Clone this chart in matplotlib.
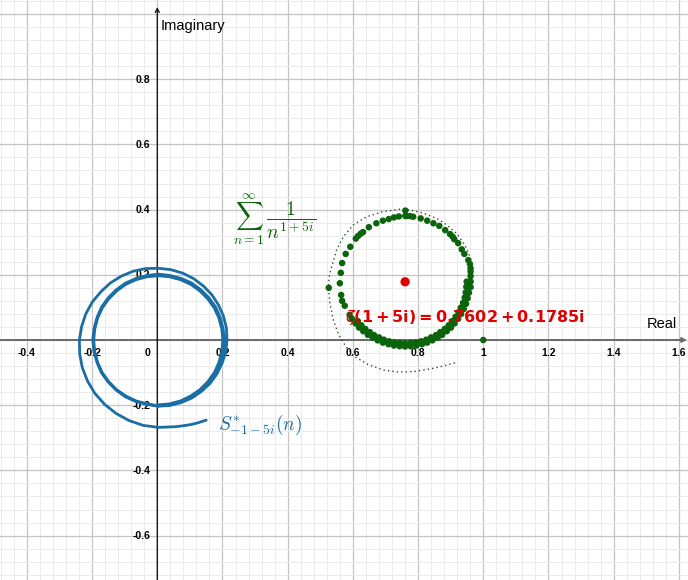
import matplotlib
matplotlib.use('Agg')
import matplotlib.pyplot as plt
from matplotlib.ticker import MultipleLocator

plt.rcParams['font.family'] = ['Liberation Sans', 'DejaVu Sans']
plt.rcParams['mathtext.fontset'] = 'cm'

# axis tick labels
x_ticks = [-0.4, -0.2, 0.2, 0.4, 0.6, 0.8, 1.0, 1.2, 1.4, 1.6]
x_tick_labels = ['-0.4', '-0.2', '0.2', '0.4', '0.6', '0.8', '1', '1.2', '1.4', '1.6']
y_ticks = [-0.6, -0.4, -0.2, 0.2, 0.4, 0.6, 0.8]
y_tick_labels = ['-0.6', '-0.4', '-0.2', '0.2', '0.4', '0.6', '0.8']

# zeta(1+5i)
zeta_re = 0.7602
zeta_im = 0.1785

# partial sums of sum 1/n^(1+5i) (green dots)
# sparse dots around the top and left
sum_re = [1.000, 0.526, 0.761, 0.761, 0.741, 0.726, 0.710, 0.692, 0.672, 0.649,
          0.631, 0.624, 0.616, 0.609, 0.592, 0.578, 0.567, 0.563, 0.560,
          0.763, 0.775, 0.785, 0.808, 0.828, 0.847, 0.865, 0.883, 0.898, 0.906,
          0.911, 0.923, 0.934, 0.942, 0.954, 0.959, 0.961, 0.961, 0.961, 0.961,
          0.961, 0.564, 0.567, 0.575, 0.590]
sum_im = [0.000, 0.160, 0.397, 0.381, 0.379, 0.376, 0.371, 0.366, 0.358, 0.346,
          0.331, 0.326, 0.319, 0.311, 0.286, 0.264, 0.236, 0.206, 0.174,
          0.380, 0.380, 0.378, 0.373, 0.366, 0.358, 0.350, 0.337, 0.325, 0.317,
          0.309, 0.297, 0.278, 0.264, 0.245, 0.233, 0.220, 0.210, 0.196, 0.179,
          0.162, 0.138, 0.120, 0.105, 0.077]
# dense band of dots, lower right of the circle (outer and inner rows)
band_re = [0.959, 0.958, 0.956, 0.952, 0.947, 0.940, 0.932, 0.923, 0.912, 0.901,
           0.888, 0.874, 0.860, 0.844, 0.828, 0.812, 0.795, 0.777, 0.760, 0.743,
           0.726, 0.709, 0.692, 0.676, 0.661, 0.646, 0.632, 0.619, 0.608, 0.597,
           0.949, 0.948, 0.946, 0.943, 0.938, 0.931, 0.924, 0.915, 0.905, 0.894,
           0.882, 0.868, 0.855, 0.840, 0.825, 0.809, 0.793, 0.777, 0.760, 0.744,
           0.727, 0.711, 0.695, 0.680, 0.665, 0.652, 0.638, 0.626, 0.615]
band_im = [0.179, 0.162, 0.145, 0.128, 0.111, 0.095, 0.080, 0.065, 0.051, 0.038,
           0.027, 0.016, 0.007, -0.001, -0.008, -0.013, -0.017, -0.019, -0.020, -0.019,
           -0.017, -0.013, -0.008, -0.001, 0.007, 0.016, 0.027, 0.038, 0.051, 0.065,
           0.179, 0.163, 0.146, 0.130, 0.114, 0.099, 0.085, 0.071, 0.058, 0.045,
           0.034, 0.024, 0.015, 0.008, 0.001, -0.004, -0.007, -0.009, -0.010, -0.009,
           -0.007, -0.004, 0.001, 0.008, 0.015, 0.024, 0.034, 0.045, 0.058]

# dotted continuous curve
cont_re = [0.913, 0.877, 0.837, 0.785, 0.738, 0.692, 0.646, 0.606, 0.579, 0.557,
           0.540, 0.530, 0.525, 0.528, 0.535, 0.550, 0.571, 0.601, 0.642, 0.693,
           0.744, 0.775, 0.816, 0.857, 0.888, 0.918, 0.944, 0.959, 0.965, 0.967]
cont_im = [-0.070, -0.080, -0.089, -0.097, -0.098, -0.092, -0.075, -0.051, -0.021, 0.015,
           0.061, 0.110, 0.160, 0.199, 0.225, 0.276, 0.317, 0.353, 0.378, 0.394,
           0.401, 0.399, 0.389, 0.373, 0.353, 0.327, 0.291, 0.256, 0.230, 0.199]

# S*_{-1-5i}(n) spiral (blue): tail, outer loop, then two tight loops
spiral_re = [0.150, 0.140, 0.125, 0.105, 0.080, 0.055, 0.030, 0.003,
             -0.043, -0.087, -0.127, -0.162, -0.192, -0.214, -0.230, -0.238, -0.239,
             -0.232, -0.219, -0.199, -0.173, -0.144, -0.110, -0.074, -0.036, 0.003,
             0.041, 0.078, 0.112, 0.142, 0.168, 0.188, 0.203, 0.212, 0.214,
             0.210, 0.199, 0.183, 0.162, 0.135, 0.106, 0.073, 0.038, 0.003,
             -0.031, -0.065, -0.097, -0.126, -0.150, -0.171, -0.185, -0.194, -0.198,
             -0.194, -0.185, -0.171, -0.150, -0.126, -0.097, -0.065, -0.031, 0.004,
             0.039, 0.073, 0.105, 0.134, 0.158, 0.179, 0.193, 0.202, 0.206,
             0.202, 0.193, 0.179, 0.158, 0.134, 0.105, 0.073, 0.039, 0.004,
             -0.031, -0.065, -0.096, -0.124, -0.149, -0.169, -0.183, -0.192, -0.195,
             -0.192, -0.183, -0.169, -0.149, -0.124, -0.096, -0.065, -0.031, 0.003,
             0.037, 0.071, 0.102, 0.130, 0.155, 0.175, 0.189, 0.198, 0.201,
             0.198, 0.189, 0.175, 0.155, 0.130, 0.102, 0.071, 0.037, 0.003]
spiral_im = [-0.246, -0.249, -0.254, -0.259, -0.263, -0.266, -0.267, -0.268,
             -0.262, -0.247, -0.225, -0.197, -0.163, -0.126, -0.085, -0.043, 0.000,
             0.042, 0.081, 0.117, 0.148, 0.175, 0.196, 0.211, 0.219, 0.220,
             0.216, 0.205, 0.188, 0.165, 0.138, 0.107, 0.073, 0.037, 0.000,
             -0.036, -0.071, -0.104, -0.133, -0.158, -0.178, -0.192, -0.201, -0.203,
             -0.198, -0.189, -0.175, -0.154, -0.130, -0.101, -0.069, -0.035, 0.000,
             0.035, 0.069, 0.101, 0.130, 0.154, 0.175, 0.189, 0.198, 0.202,
             0.198, 0.189, 0.175, 0.154, 0.130, 0.101, 0.069, 0.035, 0.000,
             -0.035, -0.069, -0.101, -0.130, -0.154, -0.175, -0.189, -0.198, -0.202,
             -0.196, -0.187, -0.172, -0.153, -0.128, -0.100, -0.069, -0.035, -0.001,
             0.033, 0.067, 0.098, 0.126, 0.151, 0.171, 0.185, 0.194, 0.197,
             0.194, 0.185, 0.171, 0.151, 0.126, 0.098, 0.067, 0.033, -0.001,
             -0.035, -0.069, -0.100, -0.128, -0.153, -0.172, -0.187, -0.196, -0.199]

blue = '#1b6ea3'
green = '#0b640b'
red = '#e00000'

fig = plt.figure(figsize=(6.88, 5.8), dpi=100)
ax = fig.add_axes([0, 0, 1, 1])
xmin, xmax = -0.4825, 1.628
ymin, ymax = -0.7362, 1.0429
ax.set_xlim(xmin, xmax)
ax.set_ylim(ymin, ymax)

# grid
ax.xaxis.set_major_locator(MultipleLocator(0.2))
ax.yaxis.set_major_locator(MultipleLocator(0.2))
ax.xaxis.set_minor_locator(MultipleLocator(0.04))
ax.yaxis.set_minor_locator(MultipleLocator(0.04))
ax.grid(which='minor', color='#ebebeb', lw=0.7, zorder=0)
ax.grid(which='major', color='#c4c4c4', lw=0.9, zorder=0)
ax.tick_params(which='both', length=0, labelbottom=False, labelleft=False)
for s in ax.spines.values():
    s.set_visible(False)
ax.set_axisbelow(True)

# axes with arrows
ax.annotate('', xy=(xmax - 0.003, 0), xytext=(xmin, 0),
            arrowprops=dict(arrowstyle='->', color='#6a6a6a', lw=1.4,
                            shrinkA=0, shrinkB=0, mutation_scale=7), zorder=1)
ax.annotate('', xy=(0, 1.0215), xytext=(0, ymin),
            arrowprops=dict(arrowstyle='->', color='#1a1a1a', lw=1.0,
                            shrinkA=0, shrinkB=0, mutation_scale=7), zorder=1)

tick_font = dict(fontsize=7.5, fontweight='bold', color='black', zorder=2)
for v, lab in zip(x_ticks, x_tick_labels):
    ax.annotate(lab, xy=(v, 0), xytext=(0, -16), textcoords='offset pixels',
                ha='center', va='baseline', **tick_font)
for v, lab in zip(y_ticks, y_tick_labels):
    ax.annotate(lab, xy=(0, v), xytext=(-7, -3.5), textcoords='offset pixels',
                ha='right', va='baseline', **tick_font)
ax.annotate('0', xy=(0, 0), xytext=(-7, -16), textcoords='offset pixels',
            ha='right', va='baseline', **tick_font)

ax.text(0.0104, 0.951, 'Imaginary', fontsize=10.5, ha='left', va='baseline', zorder=2)
ax.text(1.501, 0.037, 'Real', fontsize=10.5, ha='left', va='baseline', zorder=2)

# curves
ax.plot(spiral_re, spiral_im, color=blue, lw=2.0, solid_capstyle='round',
        solid_joinstyle='round', zorder=3)
ax.plot(cont_re, cont_im, color='#2e4a2e', lw=1.0, ls=(0, (1, 2.2)), zorder=3)
ax.scatter(sum_re + band_re, sum_im + band_im, s=22, color=green,
           edgecolors='none', zorder=4)
ax.scatter([zeta_re], [zeta_im], s=45, color=red, edgecolors='none', zorder=5)

# labels
ax.text(0.232, 0.371, r'$\sum_{n=1}^{\infty}\,\dfrac{\mathbf{1}}{n^{1+5i}}$',
        color=green, fontsize=14, ha='left', va='center', zorder=6)
ax.text(0.576, 0.056, r'$\zeta\mathbf{(1+5i)=0.7602+0.1785i}$',
        color=red, fontsize=11.5, ha='left', va='baseline',
        math_fontfamily='dejavusans', zorder=6)
ax.text(0.186, -0.262, r'$S^{*}_{-1-5i}(n)$', color=blue, fontsize=14,
        ha='left', va='center', zorder=6)

fig.savefig('out.png', dpi=100)
